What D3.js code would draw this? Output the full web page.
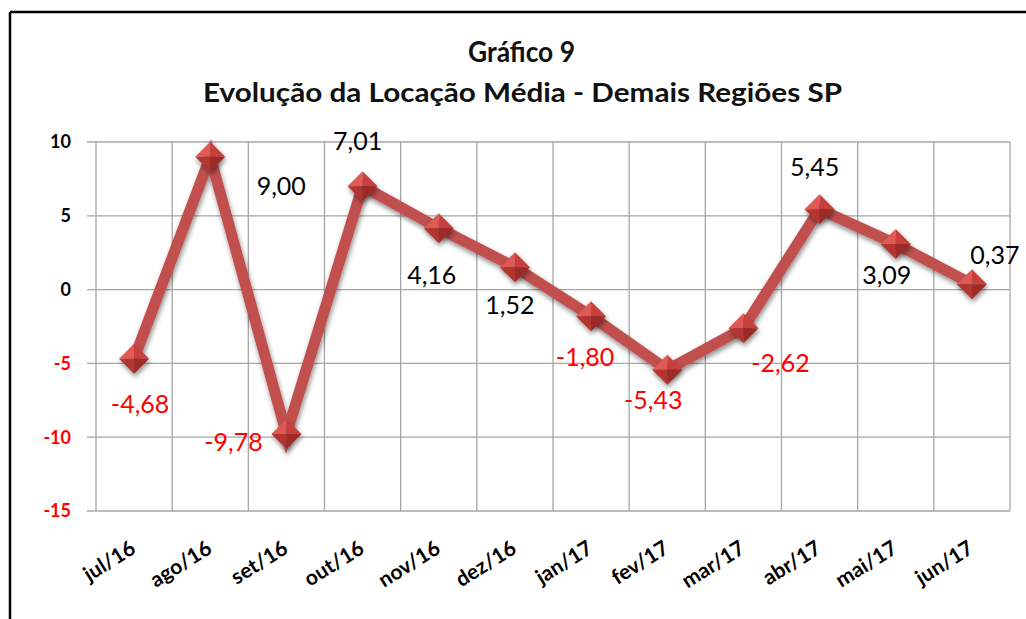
<!DOCTYPE html>
<html>
<head>
<meta charset="utf-8">
<script src="https://cdn.jsdelivr.net/npm/d3@7"></script>
<style>
  html, body { margin: 0; padding: 0; background: #fff; }
  svg { display: block; font-family: Lato, "Open Sans", sans-serif; }
</style>
</head>
<body>
<svg id="chart" width="1026" height="619"></svg>
<script>
// data
const months = ["jul/16", "ago/16", "set/16", "out/16", "nov/16", "dez/16",
                "jan/17", "fev/17", "mar/17", "abr/17", "mai/17", "jun/17"];
const values = [-4.68, 9.00, -9.78, 7.01, 4.16, 1.52, -1.80, -5.43, -2.62, 5.45, 3.09, 0.37];
const yTicks = [10, 5, 0, -5, -10, -15];

// where each value label sits relative to its point (dx, dy)
const labelOffsets = [[6, 46], [71, 29], [-53, 8], [-5, -45], [-7, 47], [-5, 38],
                      [-6, 41], [-14, 31], [37, 35], [-5, -42], [-9, 31], [23, -29]];

const svg = d3.select("#chart");
const W = 1026, H = 619;

// frame lines (top + left only)
svg.append("line").attr("x1", 10).attr("y1", 12).attr("x2", W).attr("y2", 12)
  .attr("stroke", "#000").attr("stroke-width", 2.5);
svg.append("line").attr("x1", 10).attr("y1", 12).attr("x2", 10).attr("y2", H)
  .attr("stroke", "#000").attr("stroke-width", 2.5);

// titles
svg.append("text").attr("x", 468).attr("y", 62)
  .attr("font-size", 28).attr("font-weight", "bold").attr("fill", "#111")
  .attr("textLength", 107).attr("lengthAdjust", "spacingAndGlyphs")
  .text("Gráfico 9");
svg.append("text").attr("x", 203).attr("y", 102)
  .attr("font-size", 27).attr("font-weight", "bold").attr("fill", "#111")
  .attr("textLength", 639).attr("lengthAdjust", "spacingAndGlyphs")
  .text("Evolução da Locação Média - Demais Regiões SP");

const x = d3.scaleBand().domain(months).range([96, 1010]);
const y = d3.scaleLinear().domain([-15, 10]).range([511, 142]);

const defs = svg.append("defs");
const shadow = defs.append("filter").attr("id", "shadow")
  .attr("x", "-50%").attr("y", "-50%").attr("width", "200%").attr("height", "200%");
shadow.append("feDropShadow").attr("dx", 1).attr("dy", 3).attr("stdDeviation", 2.5)
  .attr("flood-color", "#000").attr("flood-opacity", 0.45);

// grid
const grid = svg.append("g").attr("stroke", "#a6a6a6").attr("stroke-width", 1.3);
grid.selectAll("line.h").data(yTicks).enter().append("line")
  .attr("x1", 87).attr("x2", 1010)
  .attr("y1", d => y(d)).attr("y2", d => y(d));
const vx = months.map(m => x(m)).concat([x.range()[1]]);
grid.selectAll("line.v").data(vx).enter().append("line")
  .attr("x1", d => d).attr("x2", d => d)
  .attr("y1", y(10)).attr("y2", y(-15));

// y axis labels
svg.append("g").selectAll("text").data(yTicks).enter().append("text")
  .attr("x", 71).attr("y", d => y(d)).attr("dy", "0.35em")
  .attr("text-anchor", "end").attr("font-size", 18).attr("font-weight", "bold")
  .attr("fill", d => d < 0 ? "#ff0000" : "#000")
  .text(d => d);

// x axis labels
svg.append("g").selectAll("text").data(months).enter().append("text")
  .attr("transform", d => `translate(${x(d) + x.bandwidth() / 2 + 3},${552}) rotate(-32)`)
  .attr("text-anchor", "end").attr("font-size", 21).attr("font-weight", "bold")
  .attr("fill", "#000")
  .text(d => d);

const cx = (d, i) => x(months[i]) + x.bandwidth() / 2;

// line
const line = d3.line().x((d, i) => cx(d, i)).y(d => y(d));
svg.append("path").datum(values)
  .attr("d", line)
  .attr("fill", "none")
  .attr("stroke", "#c0504d")
  .attr("stroke-width", 11)
  .attr("stroke-linejoin", "miter")
  .attr("filter", "url(#shadow)");

// diamond markers with bevelled facets
const r = 15;
const mk = svg.append("g").selectAll("g").data(values).enter().append("g")
  .attr("transform", (d, i) => `translate(${cx(d, i)},${y(d)})`)
  .attr("filter", "url(#shadow)");
const facets = [
  { pts: [[0, -r], [-r, 0], [0, 0]], fill: "#e05a55" },
  { pts: [[0, -r], [r, 0], [0, 0]], fill: "#c8403c" },
  { pts: [[-r, 0], [0, r], [0, 0]], fill: "#b33531" },
  { pts: [[r, 0], [0, r], [0, 0]], fill: "#9c2a27" }
];
facets.forEach(f => {
  mk.append("polygon").attr("points", f.pts.map(p => p.join(",")).join(" "))
    .attr("fill", f.fill);
});

// value labels
svg.append("g").selectAll("text").data(values).enter().append("text")
  .attr("x", (d, i) => cx(d, i) + labelOffsets[i][0])
  .attr("y", (d, i) => y(d) + labelOffsets[i][1])
  .attr("dy", "0.35em")
  .attr("text-anchor", "middle").attr("font-size", 25)
  .attr("fill", d => d < 0 ? "#ff0000" : "#000")
  .text(d => d.toFixed(2).replace(".", ","));
</script>
</body>
</html>
